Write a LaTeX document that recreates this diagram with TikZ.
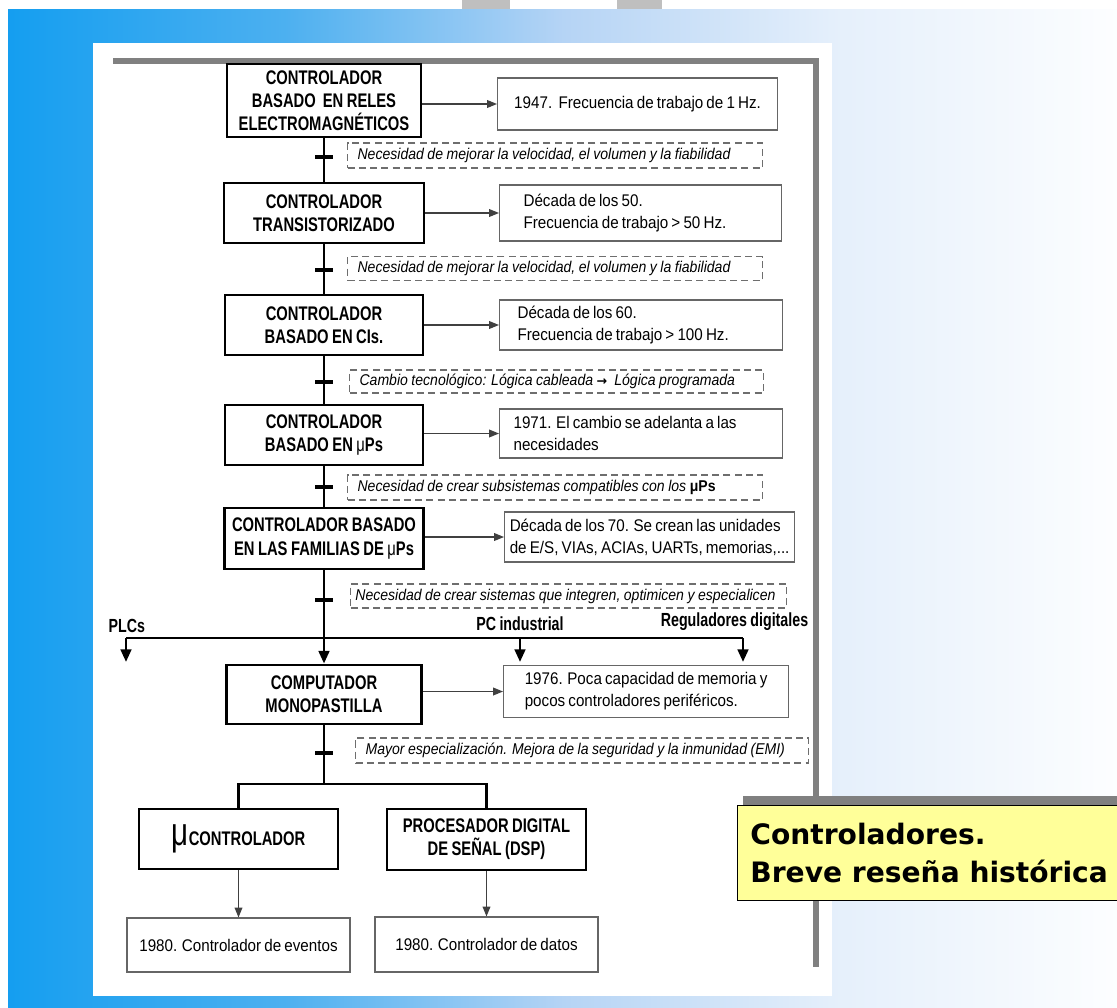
\documentclass[tikz,border=0pt]{standalone}
\usepackage{fontspec}
\setmainfont{Liberation Sans}[FakeStretch=0.9, WordSpace=0.75]
\newfontfamily\boxfont{Liberation Sans}[FakeStretch=0.75, WordSpace=0.85]
\newfontfamily\needfont{Liberation Sans}[FakeStretch=0.9, WordSpace=0.9]
\newfontfamily\titlefont{DejaVu Sans}
\newfontfamily\arrowfont{DejaVu Sans}
\usetikzlibrary{arrows.meta}

\definecolor{framegray}{RGB}{128,128,128}
\definecolor{notegray}{RGB}{110,110,110}
\definecolor{titleyellow}{RGB}{255,255,153}
\pgfdeclarehorizontalshading{slidebg}{100bp}{rgb(0bp)=(0.08,0.62,0.94); rgb(25bp)=(0.08,0.62,0.94); rgb(37.5bp)=(0.30,0.69,0.94); rgb(50bp)=(0.71,0.83,0.96); rgb(62.5bp)=(0.90,0.94,0.985); rgb(75bp)=(0.99,0.995,1); rgb(100bp)=(0.99,0.995,1)}

\tikzset{
  ctrlbox/.style={draw, line width=2pt, align=center, inner sep=1pt, font=\boxfont\fontsize{14}{16.5}\selectfont\bfseries},
  infobox/.style={draw=black!60, line width=0.8pt, anchor=west, align=flush left, inner ysep=1pt, font=\fontsize{12}{15.5}\selectfont},
  datebox/.style={draw=black!60, line width=0.8pt, inner sep=1pt, font=\fontsize{12}{15}\selectfont},
  needbox/.style={draw=notegray, dash pattern=on 5pt off 3pt, line width=0.8pt, anchor=west, align=flush left, inner xsep=0.25cm, inner ysep=1pt, font=\needfont\fontsize{11.1}{13}\selectfont\itshape},
  spine/.style={line width=2pt},
  tick/.style={line width=2.2pt},
  sidearrow/.style={draw=black!75, line width=0.8pt, -{Triangle[length=7pt,width=5.5pt]}},
  busarrow/.style={line width=2pt, -{Triangle[length=9pt,width=7.5pt]}},
  buslabel/.style={font=\boxfont\fontsize{13.5}{15}\selectfont\bfseries, inner sep=1pt},
  titlebox/.style={draw, fill=titleyellow, line width=0.6pt, anchor=north west, align=left, inner xsep=0.325cm, font=\titlefont\fontsize{20}{27}\selectfont\bfseries}
}

\begin{document}
\begin{tikzpicture}[x=0.025cm, y=-0.025cm]
\useasboundingbox (0,0) rectangle (1117,1007);
% slide background
\shade[shading=slidebg] (8,9) rectangle (1117,1007);
\fill[black!25] (462,0) rectangle (510,9);
\fill[black!25] (617,0) rectangle (662,9);
\fill[white] (93,43) rectangle (832,996);
\draw[framegray, line width=4.3pt] (113,61) -- (819,61);
\draw[framegray, line width=4.3pt] (816,58) -- (816,967);

% controllers on the spine
\node[ctrlbox, minimum width=4.85cm, minimum height=1.825cm] (reles) at (324,100.5) {CONTROLADOR\\BASADO\ \ EN RELES\\ELECTROMAGNÉTICOS};
\node[ctrlbox, minimum width=5cm, minimum height=1.5cm] (trans) at (324,213) {CONTROLADOR\\TRANSISTORIZADO};
\node[ctrlbox, minimum width=4.95cm, minimum height=1.5cm] (cis) at (324,325) {CONTROLADOR\\BASADO EN CIs.};
\node[ctrlbox, minimum width=4.95cm, minimum height=1.5cm] (ups) at (324,435) {CONTROLADOR\\BASADO EN {\mdseries μ}Ps};
\node[ctrlbox, minimum width=4.98cm, minimum height=1.525cm] (fam) at (324,538.5) {CONTROLADOR BASADO\\EN LAS FAMILIAS DE {\mdseries μ}Ps};
\node[ctrlbox, minimum width=4.875cm, minimum height=1.475cm] (mono) at (324,694.5) {COMPUTADOR\\MONOPASTILLA};
\node[ctrlbox, minimum width=4.975cm, minimum height=1.5cm] (uc) at (238.5,839) {{\fontsize{28}{28}\selectfont\mdseries μ}CONTROLADOR};
\node[ctrlbox, minimum width=4.975cm, minimum height=1.525cm] (dsp) at (486.5,839.5) {PROCESADOR DIGITAL\\DE SEÑAL (DSP)};

% dates and features
\node[infobox, minimum width=7cm, minimum height=1.3cm] (i1) at (497,104) {1947.\ \ Frecuencia de trabajo de 1 Hz.};
\node[infobox, inner xsep=0.6cm, text width=5.85cm, minimum height=1.4cm] (i2) at (499,213) {Década de los 50.\\Frecuencia de trabajo > 50 Hz.};
\node[infobox, inner xsep=0.45cm, text width=6.175cm, minimum height=1.25cm] (i3) at (499,325) {Década de los 60.\\Frecuencia de trabajo > 100 Hz.};
\node[infobox, inner xsep=0.35cm, text width=6.375cm, minimum height=1.225cm] (i4) at (499,433.5) {1971. El cambio se adelanta a las\\necesidades};
\node[infobox, minimum width=7.25cm, minimum height=1.25cm] (i5) at (504,537) {Década de los 70. Se crean las unidades\\de E/S, VIAs, ACIAs, UARTs, memorias,...};
\node[infobox, minimum width=7.125cm, minimum height=1.3cm] (i6) at (503,691.5) {1976. Poca capacidad de memoria y\\pocos controladores periféricos.};
\node[datebox, minimum width=5.575cm, minimum height=1.35cm] (e1) at (238.5,945) {1980. Controlador de eventos};
\node[datebox, minimum width=5.575cm, minimum height=1.375cm] (e2) at (486.5,944.5) {1980. Controlador de datos};

% needs between stages
\node[needbox, text width=9.875cm, minimum height=0.625cm] (n1) at (347,155.5) {\mbox{Necesidad de mejorar la velocidad, el volumen y la fiabilidad}};
\node[needbox, text width=9.875cm, minimum height=0.6cm] (n2) at (347,268.5) {\mbox{Necesidad de mejorar la velocidad, el volumen y la fiabilidad}};
\node[needbox, text width=9.85cm, minimum height=0.575cm] (n3) at (349,381.5) {\mbox{Cambio tecnológico: Lógica cableada\ {\arrowfont\upshape\bfseries\fontsize{9}{9}\selectfont →}\ \ Lógica programada}};
\node[needbox, text width=9.875cm, minimum height=0.625cm] (n4) at (347,487.5) {\mbox{Necesidad de crear subsistemas compatibles con los \textbf{\upshape μPs}}};
\node[needbox, inner xsep=0.12cm, text width=10.66cm, minimum height=0.6cm] (n5) at (350,596) {\mbox{Necesidad de crear sistemas que integren, optimicen y especialicen}};
\node[needbox, text width=10.825cm, minimum height=0.625cm] (n6) at (355,750.5) {\mbox{Mayor especialización. Mejora de la seguridad y la inmunidad (EMI)}};

% spine
\draw[spine] (reles) -- (trans);
\draw[spine] (trans) -- (cis);
\draw[spine] (cis) -- (ups);
\draw[spine] (ups) -- (fam);
\draw[busarrow] (fam) -- (mono);
\foreach \t in {157,270,382,487,600,753}
  \draw[tick] (315,\t) -- (333,\t);

% branches to other controllers
\coordinate (busL) at (126,638);
\coordinate (busR) at (743,638);
\coordinate (plc) at (126,662);
\coordinate (pci) at (520,662);
\coordinate (reg) at (743,662);
\draw[spine] (busL) -- (busR);
\draw[busarrow] (busL) -- (plc);
\draw[busarrow] (pci |- busL) -- (pci);
\draw[busarrow] (busR) -- (reg);
\node[buslabel, anchor=west] (plclabel) at (107,626) {PLCs};
\node[buslabel] (pcilabel) at (520,624) {PC industrial};
\node[buslabel] (reglabel) at (734.5,622) {Reguladores digitales};

% split to microcontroller and DSP
\coordinate (split) at (324,784);
\draw[spine] (mono) -- (split);
\draw[spine] (uc.north) -- (uc.north |- split) -| (dsp.north);
\draw[sidearrow] (uc) -- (e1);
\draw[sidearrow] (dsp) -- (e2);

% side arrows
\draw[sidearrow] (reles.east |- i1.west) -- (i1.west);
\draw[sidearrow] (trans.east |- i2.west) -- (i2.west);
\draw[sidearrow] (cis.east |- i3.west) -- (i3.west);
\draw[sidearrow] (ups.east |- i4.west) -- (i4.west);
\draw[sidearrow] (fam.east |- i5.west) -- (i5.west);
\draw[sidearrow] (mono.east |- i6.west) -- (i6.west);

% slide title
\fill[framegray] (743,796) rectangle (1120,806);
\node[titlebox, minimum width=9.575cm, minimum height=2.375cm] (title) at (737,805) {Controladores.\\Breve reseña histórica};
\end{tikzpicture}
\end{document}
